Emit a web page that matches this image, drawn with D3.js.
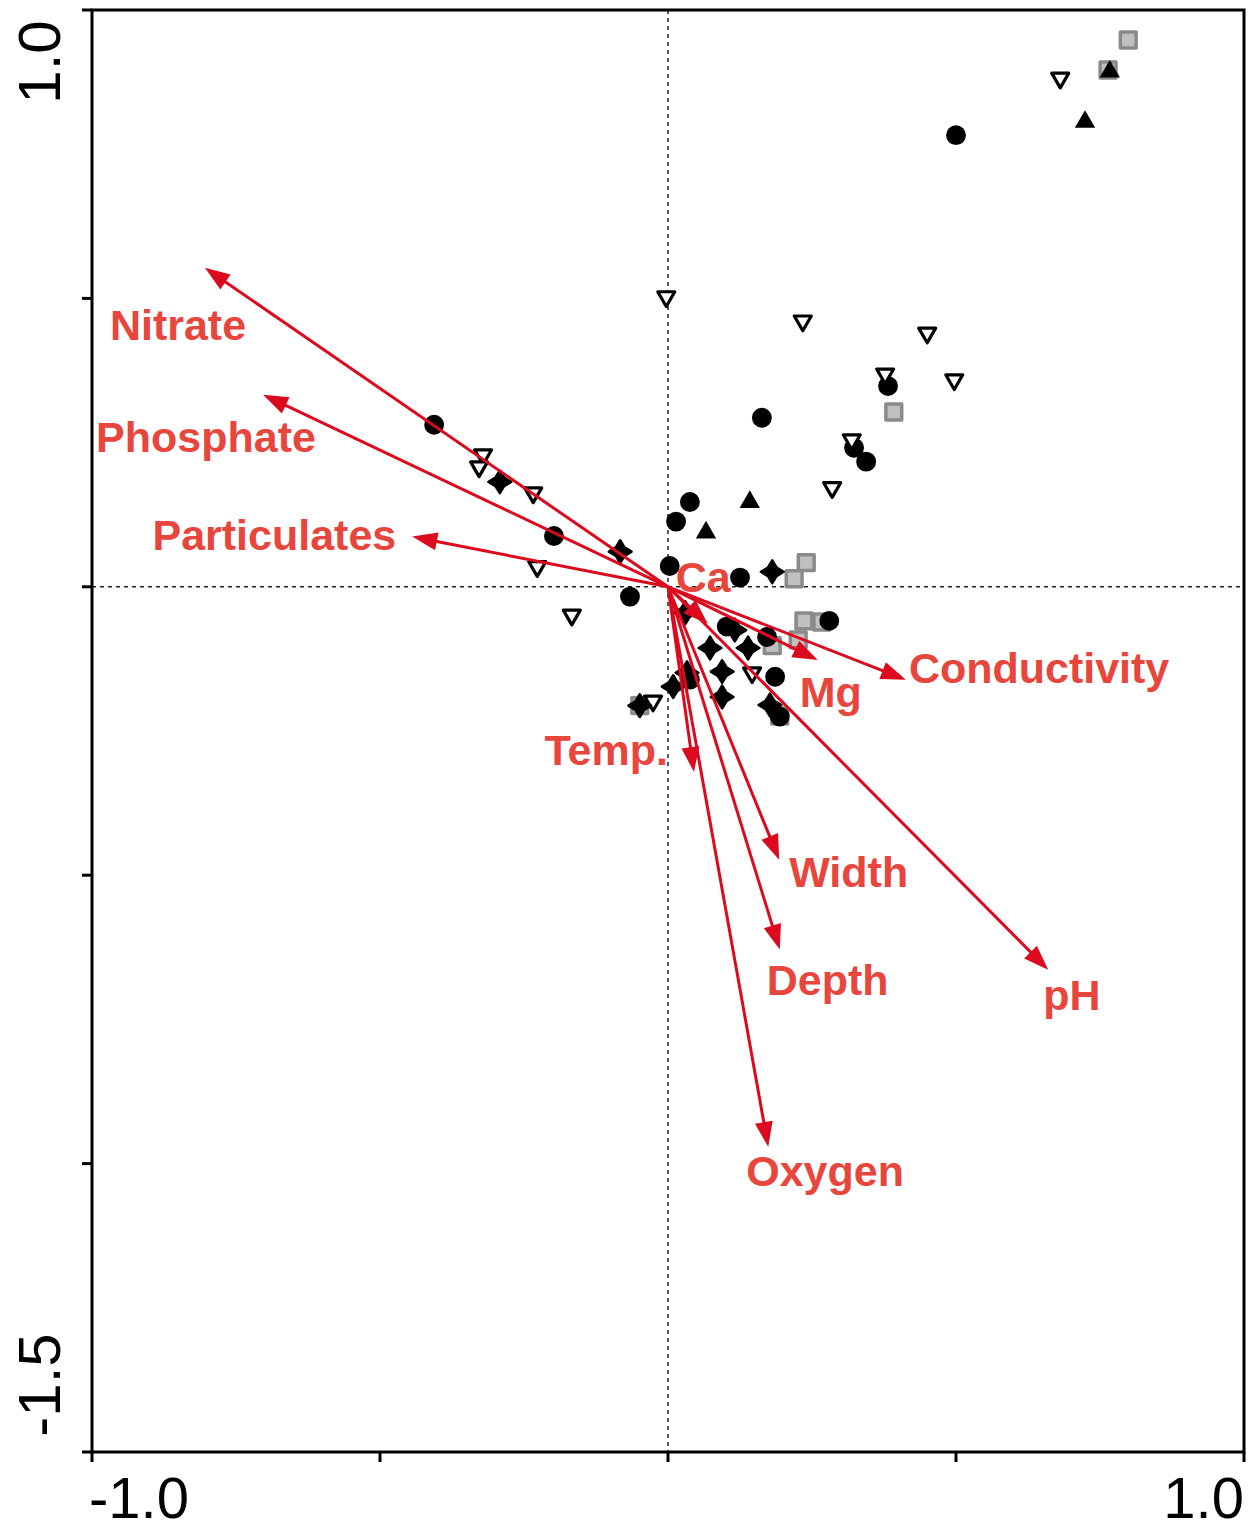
<!DOCTYPE html>
<html>
<head>
<meta charset="utf-8">
<script src="https://cdn.jsdelivr.net/npm/d3@7"></script>
<style>
  html, body { margin: 0; padding: 0; background: #fff; }
  svg { display: block; }
</style>
</head>
<body>
<div id="chart"></div>
<script>
// Site scores, grouped by symbol (axis 1, axis 2)
var squares = [
    [0.799, 0.948], [0.764, 0.896], [0.392, 0.303], [0.240, 0.042], [0.219, 0.014],
    [0.236, -0.059], [0.267, -0.061], [0.226, -0.092], [0.181, -0.102], [-0.049, -0.206],
    [0.194, -0.224]
];
var circles = [
    [0.500, 0.783], [0.163, 0.293], [0.382, 0.348], [0.323, 0.241], [0.344, 0.217],
    [0.038, 0.147], [0.014, 0.113], [0.003, 0.036], [0.125, 0.016], [-0.066, -0.017],
    [-0.406, 0.281], [-0.198, 0.088], [0.280, -0.059], [0.186, -0.156], [0.194, -0.225],
    [0.102, -0.069], [0.172, -0.087], [0.038, -0.161]
];
var openTriangles = [
    [0.681, 0.882], [-0.003, 0.503], [0.234, 0.461], [0.450, 0.440], [0.497, 0.359],
    [0.377, 0.369], [0.319, 0.255], [0.285, 0.172], [-0.321, 0.229], [-0.328, 0.208],
    [-0.234, 0.163], [-0.227, 0.035], [-0.167, -0.049], [-0.026, -0.198], [0.146, -0.149]
];
var filledTriangles = [
    [0.724, 0.806], [0.767, 0.893], [0.142, 0.147], [0.066, 0.094]
];
var stars = [
    [-0.292, 0.182], [-0.083, 0.061], [0.181, 0.026], [0.030, -0.045], [0.073, -0.106],
    [0.139, -0.106], [0.094, -0.147], [0.094, -0.191], [0.009, -0.173], [-0.049, -0.206],
    [0.177, -0.205], [0.116, -0.075], [0.033, -0.149]
];

// Environmental variables (biplot arrows)
var varNames = ["Nitrate", "Phosphate", "Particulates", "Ca", "Mg", "Conductivity",
                "pH", "Width", "Depth", "Oxygen", "Temp."];
var varX = [-0.804, -0.703, -0.444, 0.069, 0.260, 0.413, 0.660, 0.193, 0.194, 0.174, 0.045];
var varY = [0.553, 0.333, 0.087, -0.064, -0.127, -0.161, -0.664, -0.473, -0.629, -0.971, -0.321];

var xTicks = [-1.0, -0.5, 0, 0.5, 1.0];
var yTicks = [1.0, 0.5, 0, -0.5, -1.0, -1.5];
var xTickLabels = { "-1": "-1.0", "1": "1.0" };
var yTickLabels = { "1": "1.0", "-1.5": "-1.5" };

(function () {

    "use strict";

    var width = 1251,
        height = 1530,
        margin = {left: 92, right: 7, top: 10, bottom: 78},
        arrowColor = "#dc0a1e",
        textColor = "#e8453c";

    // label placement relative to the arrow tip, in pixels
    var labelPlace = {
        "Nitrate":      {dx: -95, dy: 72, anchor: "start"},
        "Phosphate":    {dx: -167, dy: 57, anchor: "start"},
        "Particulates": {dx: -16, dy: 13, anchor: "end"},
        "Ca":           {dx: -32, dy: -32, anchor: "start"},
        "Mg":           {dx: -18, dy: 47, anchor: "start"},
        "Conductivity": {dx: 3, dy: 3, anchor: "start"},
        "pH":           {dx: -5, dy: 40, anchor: "start"},
        "Width":        {dx: 10, dy: 27, anchor: "start"},
        "Depth":        {dx: -13, dy: 45, anchor: "start"},
        "Oxygen":       {dx: -22, dy: 39, anchor: "start"},
        "Temp.":        {dx: -26, dy: -7, anchor: "end"}
    };

    var x = d3.scaleLinear().domain([-1.0, 1.0]).range([margin.left, width - margin.right]),
        y = d3.scaleLinear().domain([-1.5, 1.0]).range([height - margin.bottom, margin.top]);

    var svg = d3.select("#chart").append("svg")
        .attr("width", width)
        .attr("height", height);

    // zero lines
    svg.append("line")
        .attr("x1", x(0)).attr("x2", x(0))
        .attr("y1", y(1.0)).attr("y2", y(-1.5))
        .attr("stroke", "#222").attr("stroke-width", 1.5)
        .attr("stroke-dasharray", "4,4");
    svg.append("line")
        .attr("x1", x(-1)).attr("x2", x(1))
        .attr("y1", y(0)).attr("y2", y(0))
        .attr("stroke", "#222").attr("stroke-width", 1.5)
        .attr("stroke-dasharray", "4,4");

    /* site symbols */

    // fat four-pointed star
    var starType = {
        draw: function (context, size) {
            var r = Math.sqrt(size) * 0.75, w = r * 0.38;
            context.moveTo(0, -r);
            context.lineTo(w, -w);
            context.lineTo(r, 0);
            context.lineTo(w, w);
            context.lineTo(0, r);
            context.lineTo(-w, w);
            context.lineTo(-r, 0);
            context.lineTo(-w, -w);
            context.closePath();
        }
    };

    function drawSymbols(data, type, size, fill, stroke, strokeWidth, rotate) {
        svg.append("g").selectAll("path")
            .data(data)
            .enter()
            .append("path")
            .attr("d", d3.symbol().type(type).size(size))
            .attr("transform", function (d) {
                return "translate(" + x(d[0]) + "," + y(d[1]) + ")" + (rotate ? " rotate(" + rotate + ")" : "");
            })
            .attr("fill", fill)
            .attr("stroke", stroke)
            .attr("stroke-width", strokeWidth)
            .attr("stroke-linejoin", "round");
    }

    drawSymbols(squares, d3.symbolSquare, 250, "#c0c0c0", "#8a8a8a", 3.5);
    drawSymbols(circles, d3.symbolCircle, 310, "#000", "none", 0);
    drawSymbols(openTriangles, d3.symbolTriangle, 125, "#fff", "#000", 3.2, 180);
    drawSymbols(filledTriangles, d3.symbolTriangle, 180, "#000", "none", 0);
    drawSymbols(stars, starType, 230, "#000", "#000", 2.5);

    /* arrows */

    var arrows = varNames.map(function (name, i) {
        return {name: name, x: varX[i], y: varY[i]};
    });

    var ag = svg.append("g");
    arrows.forEach(function (d) {
        var x0 = x(0), y0 = y(0), x1 = x(d.x), y1 = y(d.y),
            ang = Math.atan2(y1 - y0, x1 - x0),
            len = 25, half = 9,
            bx = x1 - len * Math.cos(ang), by = y1 - len * Math.sin(ang);
        ag.append("line")
            .attr("x1", x0).attr("y1", y0)
            .attr("x2", bx + 4 * Math.cos(ang)).attr("y2", by + 4 * Math.sin(ang))
            .attr("stroke", arrowColor).attr("stroke-width", 3);
        ag.append("path")
            .attr("d", "M" + x1 + "," + y1 +
                "L" + (bx + half * Math.sin(ang)) + "," + (by - half * Math.cos(ang)) +
                "L" + (bx - half * Math.sin(ang)) + "," + (by + half * Math.cos(ang)) + "Z")
            .attr("fill", arrowColor);
    });

    svg.append("g").selectAll("text")
        .data(arrows)
        .enter()
        .append("text")
        .attr("x", function (d) { return x(d.x) + labelPlace[d.name].dx; })
        .attr("y", function (d) { return y(d.y) + labelPlace[d.name].dy; })
        .attr("text-anchor", function (d) { return labelPlace[d.name].anchor; })
        .attr("font-family", "Liberation Sans, Arial, sans-serif")
        .attr("font-weight", "bold")
        .attr("font-size", 43)
        .attr("fill", textColor)
        .text(function (d) { return d.name; });

    /* frame and axes */

    svg.append("rect")
        .attr("x", x(-1)).attr("y", y(1))
        .attr("width", x(1) - x(-1)).attr("height", y(-1.5) - y(1))
        .attr("fill", "none").attr("stroke", "#000").attr("stroke-width", 3);

    svg.append("g").selectAll("line")
        .data(xTicks)
        .enter()
        .append("line")
        .attr("x1", function (d) { return x(d); })
        .attr("x2", function (d) { return x(d); })
        .attr("y1", y(-1.5)).attr("y2", y(-1.5) + 10)
        .attr("stroke", "#000").attr("stroke-width", 3);

    svg.append("g").selectAll("line")
        .data(yTicks)
        .enter()
        .append("line")
        .attr("y1", function (d) { return y(d); })
        .attr("y2", function (d) { return y(d); })
        .attr("x1", x(-1) - 10).attr("x2", x(-1))
        .attr("stroke", "#000").attr("stroke-width", 3);

    svg.append("g").selectAll("text")
        .data(xTicks.filter(function (d) { return xTickLabels[d] !== undefined; }))
        .enter()
        .append("text")
        .attr("x", function (d) { return x(d) + (d < 0 ? -3 : 0); })
        .attr("y", y(-1.5) + 66)
        .attr("text-anchor", function (d) { return d < 0 ? "start" : "end"; })
        .attr("font-family", "Liberation Sans, Arial, sans-serif")
        .attr("font-size", 58)
        .attr("fill", "#000")
        .text(function (d) { return xTickLabels[d]; });

    svg.append("g").selectAll("text")
        .data(yTicks.filter(function (d) { return yTickLabels[d] !== undefined; }))
        .enter()
        .append("text")
        .attr("transform", function (d) {
            var cy = d > 0 ? y(d) + 52 : y(d) - 67;
            return "translate(60," + cy + ") rotate(-90)";
        })
        .attr("text-anchor", "middle")
        .attr("font-family", "Liberation Sans, Arial, sans-serif")
        .attr("font-size", 60)
        .attr("fill", "#000")
        .text(function (d) { return yTickLabels[d]; });

}());
</script>
</body>
</html>
